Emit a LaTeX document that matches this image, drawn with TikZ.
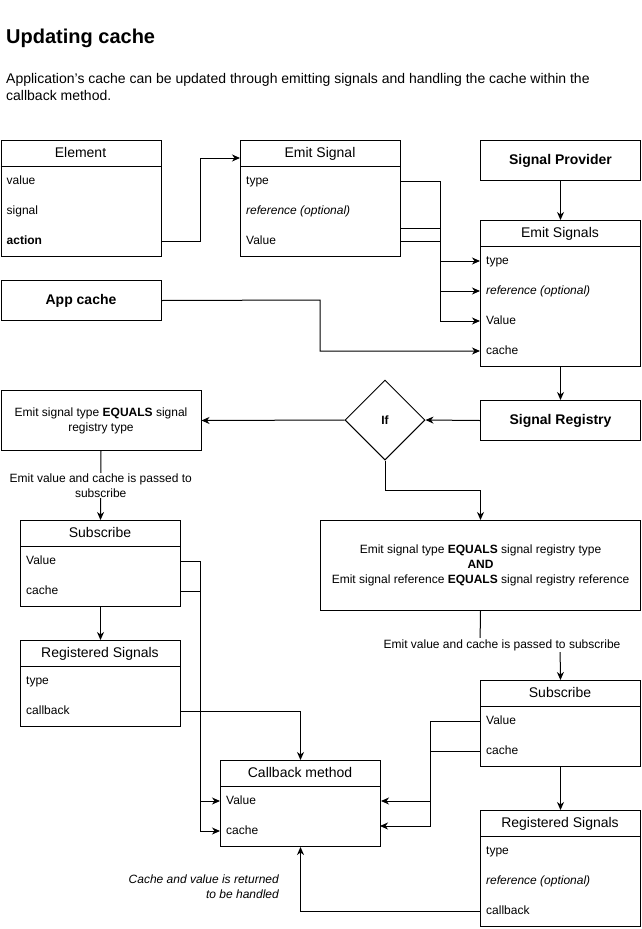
\documentclass[tikz,border=0pt]{standalone}
\usepackage{fontspec}
\setmainfont{Liberation Sans}
\usetikzlibrary{arrows.meta,shapes.geometric}
\begin{document}
\begin{tikzpicture}[x=1pt,y=-1pt,
  box/.style={draw,line width=1pt,inner sep=0pt,anchor=north west},
  hdr/.style={inner sep=0pt,text height=11pt,text depth=3pt,font=\fontsize{14}{16}\selectfont},
  row/.style={anchor=west,inner sep=0pt,text height=9pt,text depth=2pt,font=\fontsize{12}{14}\selectfont},
  btitle/.style={text height=10.5pt,text depth=3pt,font=\fontsize{14}{16}\selectfont\bfseries},
  btext/.style={font=\fontsize{12}{15}\selectfont,align=center},
  lbl/.style={font=\fontsize{12}{15}\selectfont,align=center,fill=white,inner sep=1pt},
  conn/.style={line width=1pt},
  arr/.style={conn,-{Stealth[length=8pt,width=7pt,inset=2.5pt]}},
  sep/.style={line width=1pt}
]
\useasboundingbox (0,0) rectangle (642,929);

% title and description
\node[anchor=base west,inner sep=0pt,font=\fontsize{20}{24}\selectfont\bfseries] (title) at (6,43) {Updating cache};
\node[anchor=base west,inner sep=0pt,align=left,font=\fontsize{14}{17}\selectfont] (desc) at (6,100)
  {Application's cache can be updated through emitting signals and handling the cache within the\\callback method.};

% Element
\node[box,minimum width=160pt,minimum height=116pt] (el) at (0.5,140) {};
\node[hdr] (elh) at (80.5,153) {Element};
\draw[sep] (0.5,166) -- (160.5,166);
\node[row] (elv) at (6.5,181) {value};
\node[row] (els) at (6.5,211) {signal};
\node[row] (ela) at (6.5,241) {\bfseries action};

% Emit Signal
\node[box,minimum width=160pt,minimum height=116pt] (es) at (240,140) {};
\node[hdr] (esh) at (320,153) {Emit Signal};
\draw[sep] (240,166) -- (400,166);
\node[row] (est) at (246,181) {type};
\node[row] (esr) at (246,211) {\itshape reference (optional)};
\node[row] (esv) at (246,241) {Value};

% Signal Provider
\node[box,btitle,minimum width=160pt,minimum height=40pt] (sp) at (480,140) {Signal Provider};

% Emit Signals
\node[box,minimum width=160pt,minimum height=146pt] (ems) at (480,220) {};
\node[hdr] (emsh) at (560,233) {Emit Signals};
\draw[sep] (480,246) -- (640,246);
\node[row] (ems1) at (486,261) {type};
\node[row] (ems2) at (486,291) {\itshape reference (optional)};
\node[row] (ems3) at (486,321) {Value};
\node[row] (ems4) at (486,351) {cache};

% App cache
\node[box,btitle,minimum width=160pt,minimum height=40pt] (ac) at (0.5,280) {App cache};

% Signal Registry
\node[box,btitle,minimum width=160pt,minimum height=40pt] (sr) at (480,400) {Signal Registry};

% If diamond
\node[diamond,draw,line width=1pt,aspect=1,minimum width=80pt,minimum height=80pt,inner sep=0pt,
      font=\fontsize{12}{14}\selectfont\bfseries] (ifd) at (385,420) {If};

% left condition box
\node[box,btext,minimum width=200pt,minimum height=60pt] (lb) at (0.5,390)
  {Emit signal type \textbf{EQUALS} signal\\registry type};

% big condition box
\node[box,btext,minimum width=320pt,minimum height=90pt] (bb) at (320,520)
  {Emit signal type \textbf{EQUALS} signal registry type\\\textbf{AND}\\Emit signal reference \textbf{EQUALS} signal registry reference};

% left Subscribe
\node[box,minimum width=160pt,minimum height=86pt] (ls) at (20,520) {};
\node[hdr] (lsh) at (100,533) {Subscribe};
\draw[sep] (20,546) -- (180,546);
\node[row] (lsv) at (26,561) {Value};
\node[row] (lsc) at (26,591) {cache};

% left Registered Signals
\node[box,minimum width=160pt,minimum height=86pt] (lr) at (20,640) {};
\node[hdr] (lrh) at (100,653) {Registered Signals};
\draw[sep] (20,666) -- (180,666);
\node[row] (lrt) at (26,681) {type};
\node[row] (lrc) at (26,711) {callback};

% Callback method
\node[box,minimum width=160pt,minimum height=86pt] (cb) at (220,760) {};
\node[hdr] (cbh) at (300,773) {Callback method};
\draw[sep] (220,786) -- (380,786);
\node[row] (cbv) at (226,801) {Value};
\node[row] (cbc) at (226,831) {cache};

% right Subscribe
\node[box,minimum width=160pt,minimum height=86pt] (rs) at (480,680) {};
\node[hdr] (rsh) at (560,693) {Subscribe};
\draw[sep] (480,706) -- (640,706);
\node[row] (rsv) at (486,721) {Value};
\node[row] (rsc) at (486,751) {cache};

% right Registered Signals
\node[box,minimum width=160pt,minimum height=116pt] (rr) at (480,810) {};
\node[hdr] (rrh) at (560,823) {Registered Signals};
\draw[sep] (480,836) -- (640,836);
\node[row] (rrt) at (486,851) {type};
\node[row] (rrr) at (486,881) {\itshape reference (optional)};
\node[row] (rrc) at (486,911) {callback};

% helper coordinates
\coordinate (esin) at (240,158);
\coordinate (c228) at (0,228);
\coordinate (cbin2) at (380,826);

% connectors
\draw[arr] (ela -| el.east) -| (200,158) -- (esin);
\draw[arr] (est -| es.east) -- (440,181) |- (ems1 -| ems.west);
\draw[arr] (es.east |- c228) -- (440,228) |- (ems2 -| ems.west);
\draw[arr] (esv -| es.east) -- (440,241) |- (ems3 -| ems.west);
\draw[arr] (sp.south) -- (ems.north);
\draw[arr] (ac.east) -- (320,300) |- (ems4 -| ems.west);
\draw[arr] (ems.south) -- (sr.north);
\draw[arr] (sr.west) -- (ifd.east);
\draw[arr] (ifd.west) -- (lb.east);
\draw[arr] (ifd.south) -- (385,490) -| (bb.north);
\draw[arr] (lb.south) -- node[lbl] (lbll) {Emit value and cache is passed to\\subscribe} (ls.north);
\draw[arr] (ls.south) -- (lr.north);
\draw[arr] (lsv -| ls.east) -- (200,561) |- (cbv -| cb.west);
\draw[arr] (lsc -| ls.east) -- (200,591) |- (cbc -| cb.west);
\draw[arr] (lrc -| lr.east) -| (cb.north);
\draw[conn] (bb.south) -- (480,645) -- (560,645);
\draw[arr] (560,645) -- (rs.north);
\node[lbl] (rlbl) at (502,645) {Emit value and cache is passed to subscribe};
\draw[arr] (rsv -| rs.west) -- (430,721) |- (cbv -| cb.east);
\draw[arr] (rsc -| rs.west) -- (430,751) |- (cbin2);
\draw[arr] (rs.south) -- (rr.north);
\draw[arr] (rrc -| rr.west) -| (cb.south);
\node[anchor=east,inner sep=0pt,align=right,font=\fontsize{12}{15}\selectfont\itshape] (retl) at (279,887)
  {Cache and value is returned\\to be handled};
\end{tikzpicture}
\end{document}
